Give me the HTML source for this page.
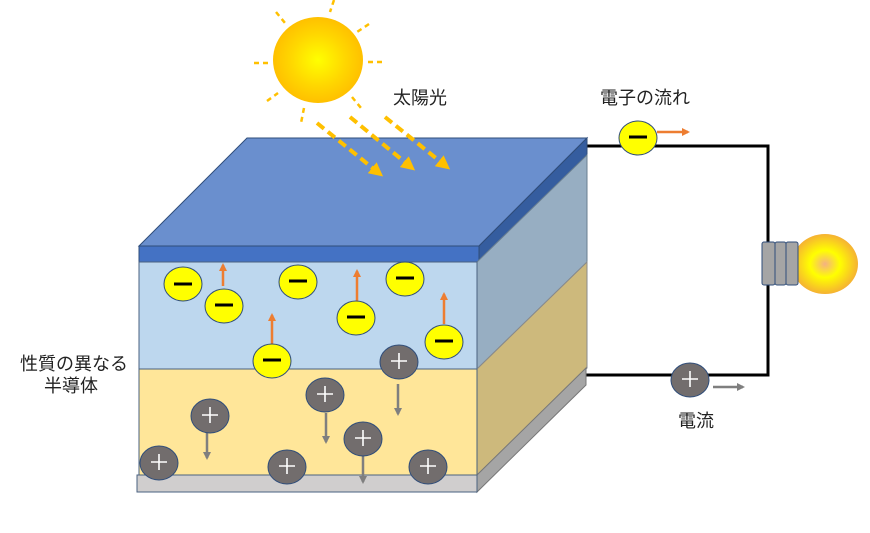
<!DOCTYPE html>
<html><head><meta charset="utf-8"><style>
html,body{margin:0;padding:0;background:#fff;}
svg{display:block}
text{font-family:"Liberation Sans","Noto Sans CJK JP",sans-serif;font-size:18px;fill:#222}
</style></head><body>
<svg width="870" height="533" viewBox="0 0 870 533" xmlns="http://www.w3.org/2000/svg">
<defs>
<radialGradient id="sun" cx="50%" cy="50%" r="50%"><stop offset="0" stop-color="#ffff00"/><stop offset="0.6" stop-color="#ffd700"/><stop offset="1" stop-color="#ffc000"/></radialGradient>
<radialGradient id="bulb" cx="50%" cy="50%" r="50%"><stop offset="0" stop-color="#f4b183"/><stop offset="0.45" stop-color="#ffff00"/><stop offset="1" stop-color="#f5b233"/></radialGradient>
<marker id="ao" markerWidth="8" markerHeight="8" refX="6" refY="4" orient="auto" markerUnits="userSpaceOnUse"><path d="M0,0 L8,4 L0,8z" fill="#ed7d31"/></marker>
<marker id="ag" markerWidth="8" markerHeight="8" refX="6" refY="4" orient="auto" markerUnits="userSpaceOnUse"><path d="M0,0 L8,4 L0,8z" fill="#7f7f7f"/></marker>
<marker id="ay" markerWidth="14" markerHeight="14" refX="10" refY="7" orient="auto" markerUnits="userSpaceOnUse"><path d="M0,0 L14,7 L0,14z" fill="#ffc000"/></marker>
</defs>
<polyline points="585,146 768,146 768,375 585,375" fill="none" stroke="#000" stroke-width="3"/>
<g stroke="#ffc000" stroke-width="2.5" stroke-dasharray="5,4">
<line x1="334" y1="0" x2="330" y2="12"/><line x1="276" y1="12" x2="285" y2="23"/><line x1="369" y1="24" x2="357" y2="32"/>
<line x1="254" y1="63" x2="268" y2="63"/><line x1="368" y1="62" x2="383" y2="62"/><line x1="267" y1="101" x2="278" y2="93"/>
<line x1="304" y1="108" x2="301" y2="123"/><line x1="352" y1="97" x2="361" y2="108"/>
</g>
<ellipse cx="318" cy="60" rx="45" ry="43" fill="url(#sun)"/>
<text x="393" y="104">太陽光</text>
<text x="600" y="104">電子の流れ</text>
<text x="678" y="427">電流</text>
<text x="20" y="370">性質の異なる</text>
<text x="44" y="392">半導体</text>
<polygon points="139,246 247,138 587,138 479,246" fill="#6a8fce" stroke="#2f4d7a" stroke-width="1"/>
<polygon points="479,246 587,138 587,155 479,262" fill="#355d9f" stroke="#2f4d7a" stroke-width="1"/>
<rect x="139" y="246" width="340" height="16" fill="#4472c4" stroke="#2f4d7a" stroke-width="1"/>
<polygon points="477,262 587,155 587,262 477,369" fill="#97aec2" stroke="#6a7f90" stroke-width="1"/>
<rect x="139" y="262" width="338" height="107" fill="#bdd7ee" stroke="#4a6280" stroke-width="1"/>
<polygon points="477,369 587,262 587,368 477,475" fill="#cdb97c" stroke="#8a8a8a" stroke-width="1"/>
<rect x="139" y="369" width="338" height="106" fill="#ffe699" stroke="#4a6280" stroke-width="1"/>
<polygon points="477,475 586,368 586,385 477,492" fill="#a5a5a5" stroke="#777" stroke-width="1"/>
<rect x="137" y="475" width="340" height="17" fill="#d0cece" stroke="#4a6280" stroke-width="1"/>
<g stroke="#ffc000" stroke-width="4" stroke-dasharray="9,5" fill="none">
<line x1="317" y1="123" x2="380" y2="174" marker-end="url(#ay)"/>
<line x1="350" y1="117" x2="412" y2="168" marker-end="url(#ay)"/>
<line x1="385" y1="117" x2="447" y2="167" marker-end="url(#ay)"/>
</g>
<g stroke="#ed7d31" stroke-width="2.5">
<line x1="223" y1="286" x2="223" y2="265" marker-end="url(#ao)"/>
<line x1="357" y1="301" x2="357" y2="271" marker-end="url(#ao)"/>
<line x1="444" y1="324" x2="444" y2="294" marker-end="url(#ao)"/>
<line x1="272" y1="344" x2="272" y2="315" marker-end="url(#ao)"/>
<line x1="657" y1="132" x2="688" y2="132" marker-end="url(#ao)"/>
</g>
<g stroke="#7f7f7f" stroke-width="2.5">
<line x1="398" y1="384" x2="398" y2="414" marker-end="url(#ag)"/>
<line x1="326" y1="413" x2="326" y2="442" marker-end="url(#ag)"/>
<line x1="207" y1="428" x2="207" y2="458" marker-end="url(#ag)"/>
<line x1="363" y1="453" x2="363" y2="482" marker-end="url(#ag)"/>
<line x1="713" y1="387" x2="743" y2="387" marker-end="url(#ag)"/>
</g>
<g fill="#ffff00" stroke="#2f4d7a" stroke-width="1">
<ellipse cx="183" cy="284" rx="19" ry="17"/><ellipse cx="224" cy="306" rx="19" ry="17"/>
<ellipse cx="298" cy="282" rx="19" ry="17"/><ellipse cx="356" cy="318" rx="19" ry="17"/>
<ellipse cx="405" cy="279" rx="19" ry="17"/><ellipse cx="444" cy="342" rx="19" ry="17"/>
<ellipse cx="272" cy="361" rx="19" ry="17"/><ellipse cx="638" cy="138" rx="19" ry="17"/>
</g>
<g stroke="#000" stroke-width="3">
<line x1="174" y1="284" x2="192" y2="284"/><line x1="215" y1="305" x2="233" y2="305"/>
<line x1="289" y1="281" x2="307" y2="281"/><line x1="347" y1="317" x2="365" y2="317"/>
<line x1="396" y1="278" x2="414" y2="278"/><line x1="435" y1="341" x2="453" y2="341"/>
<line x1="263" y1="360" x2="281" y2="360"/><line x1="629" y1="137" x2="647" y2="137"/>
</g>
<g fill="#726d6d" stroke="#2f4d7a" stroke-width="1">
<ellipse cx="399" cy="362" rx="19" ry="17"/><ellipse cx="325" cy="395" rx="19" ry="17"/>
<ellipse cx="210" cy="416" rx="19" ry="17"/><ellipse cx="363" cy="439" rx="19" ry="17"/>
<ellipse cx="159" cy="463" rx="19" ry="17"/><ellipse cx="287" cy="467" rx="19" ry="17"/>
<ellipse cx="428" cy="467" rx="19" ry="17"/><ellipse cx="690" cy="380" rx="19" ry="17"/>
</g>
<g stroke="#fff" stroke-width="1.6">
<path d="M391,361h16M399,353v16"/><path d="M317,394h16M325,386v16"/><path d="M202,415h16M210,407v16"/>
<path d="M355,438h16M363,430v16"/><path d="M151,462h16M159,454v16"/><path d="M279,466h16M287,458v16"/>
<path d="M420,466h16M428,458v16"/><path d="M682,379h16M690,371v16"/>
</g>
<ellipse cx="825" cy="264" rx="33" ry="30" fill="url(#bulb)"/>
<g fill="#a5a5a5" stroke="#2f4d7a" stroke-width="1">
<rect x="762" y="242" width="13" height="43" rx="2"/><rect x="775" y="242" width="11" height="43" rx="2"/><rect x="786" y="242" width="12" height="43" rx="2"/>
</g>
</svg>
</body></html>
